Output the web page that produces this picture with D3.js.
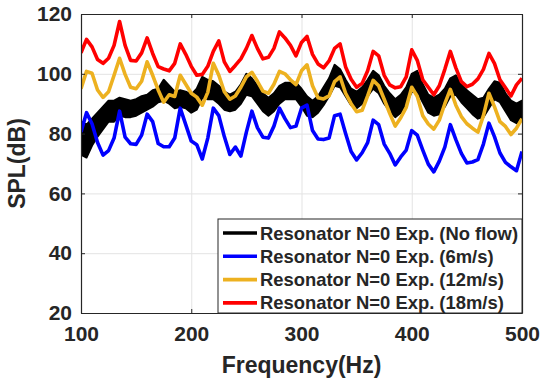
<!DOCTYPE html>
<html>
<head>
<meta charset="utf-8">
<script src="https://cdn.jsdelivr.net/npm/d3@7"></script>
<style>
  html, body { margin: 0; padding: 0; background: #fff; }
  svg { display: block; font-family: "Liberation Sans", Arial, sans-serif; font-weight: bold; }
</style>
</head>
<body>
<svg id="chart" width="541" height="382"></svg>
<script>
// frequency grid (Hz), 5 Hz steps from 100 to 500
const freq = d3.range(100, 501, 5);

// No flow: noisy band, read as upper / lower envelope (dB)
const noFlowHi = [84, 83, 85, 87, 89, 91, 91, 92, 91.5, 91, 91.5, 92.5, 93, 94.5, 95, 98, 96, 94, 94.5, 94,
  93, 95, 99, 98, 97.5, 96, 94, 93, 94, 96.5, 100, 98.5, 96, 93.5, 92, 93.5, 96, 97, 97, 97,
  95, 92.5, 91, 92.5, 95.5, 98.5, 103, 101.5, 98, 95, 94, 95.5, 98, 101, 99.5, 96, 93.5, 91.5, 93, 95.5,
  100, 101, 96.5, 93, 92, 93, 95, 98.5, 99.5, 96.5, 94.5, 93, 91.5, 92, 95, 97.5, 97, 93.5, 91, 90, 91];
const noFlowLo = [73, 72, 76, 79, 81.5, 84, 84, 86, 85.5, 85.5, 86, 87, 88, 89, 90.5, 91, 90, 88.5, 89, 88.5,
  87, 88, 92, 91.5, 91.5, 90, 88, 87.5, 88, 90, 93, 92.5, 90, 87.5, 86, 87.5, 90, 91.5, 91.5, 91.5,
  89, 86, 85.5, 87, 89.5, 92.5, 96, 95.5, 92.5, 89.5, 88.5, 90, 92.5, 95, 93.5, 90, 87.5, 85.5, 87, 90,
  94, 94, 90.5, 87, 86, 86.5, 89, 92.5, 93, 90.5, 88.5, 86.5, 85, 85.5, 88.5, 91.5, 90.5, 87.5, 84.5, 83.5, 85];

// 6 m/s
const flow6 = [80.5, 87, 83.3, 77, 72.8, 74.3, 78.5, 87.5, 78.8, 76.6, 76.4, 79.5, 86.5, 84, 76.7, 75.6, 75.6, 78.5, 88.5, 83,
  77.5, 76.3, 71.5, 78.5, 88.5, 86, 79, 73, 75.5, 72.5, 80.5, 87.5, 82, 78.8, 78.5, 82.5, 88.5, 85, 82, 82.5,
  88.5, 89.5, 81, 78.2, 78, 78.5, 86, 86.5, 80, 74, 71.2, 73.6, 77, 84.5, 83, 76.5, 73.4, 69.5, 72.2, 74.5,
  81, 79.5, 74.5, 69.8, 67.2, 70.8, 75.5, 83, 78, 73.4, 70.2, 70.5, 71.3, 76.5, 83.5, 79, 73.5, 70.4, 68.9, 67.6, 74];

// 12 m/s
const flow12 = [95, 100.8, 100.2, 94.6, 92.1, 94, 99.5, 105.2, 99.8, 95.5, 95, 97.5, 104, 99.5, 94.6, 90.5, 93, 92.4, 99.5, 96.5,
  93.5, 92.2, 89.5, 93.8, 103.5, 99.5, 94, 91.5, 92.6, 95.5, 99, 100.5, 97.5, 94.2, 93.5, 96.5, 100.8, 100, 98, 96.4,
  101, 103, 96, 92, 91.6, 92.6, 97.4, 99, 93.5, 90, 87.3, 87.8, 92.6, 97.8, 96, 91.5, 86.8, 82.5, 85.3, 88.8,
  95.5, 92.5, 86, 83.2, 81.5, 84.5, 90, 94.8, 89.5, 85.7, 83.3, 81.8, 80.5, 86, 93.5, 89, 84, 82.4, 79.7, 81.8, 85];

// 18 m/s
const flow18 = [107, 111.5, 109, 104.8, 103.5, 105.2, 109.5, 117.5, 109.5, 104.5, 104.3, 107, 112, 106.8, 102.4, 101.6, 101, 103.5, 110, 106.5,
  102.5, 99.5, 99.8, 102.5, 107.5, 111, 104, 100.8, 102.8, 105, 108.5, 112.8, 108.5, 105, 105.5, 108.5, 114, 112, 109.5, 106,
  110.5, 112.5, 106.5, 103.3, 102, 104.3, 108.5, 110, 102.3, 98.2, 95.5, 96.8, 101, 107.5, 106, 99.5, 96.3, 95.3, 95.7, 99,
  108, 104.5, 98, 95.5, 93, 96, 101.5, 107.5, 102, 97.4, 95.7, 96.5, 98.3, 101.5, 106.8, 103.5, 98, 95.3, 92.6, 96.3, 98.5];

const legendLabels = [
  "Resonator N=0 Exp. (No flow)",
  "Resonator N=0 Exp. (6m/s)",
  "Resonator N=0 Exp. (12m/s)",
  "Resonator N=0 Exp. (18m/s)"
];
const colors = ["#000000", "#0000ff", "#edb120", "#ff0000"];
const xTicks = [100, 200, 300, 400, 500];
const yTicks = [20, 40, 60, 80, 100, 120];

const svg = d3.select("#chart");
const margin = { top: 14, right: 19, bottom: 69, left: 81 };
const width = 541 - margin.left - margin.right;
const height = 382 - margin.top - margin.bottom;
const axisColor = "#262626";

const x = d3.scaleLinear().domain([100, 500]).range([0, width]);
const y = d3.scaleLinear().domain([20, 120]).range([height, 0]);

const g = svg.append("g").attr("transform", "translate(" + margin.left + "," + margin.top + ")");

svg.append("defs").append("clipPath").attr("id", "clip")
  .append("rect").attr("width", width).attr("height", height);

// grid
g.append("g")
  .attr("transform", "translate(0," + height + ")")
  .call(d3.axisBottom(x).tickValues(xTicks).tickSize(-height).tickFormat(""))
  .call(s => s.select(".domain").remove())
  .selectAll("line").attr("stroke", "#e3e3e3").attr("stroke-width", 1);
g.append("g")
  .call(d3.axisLeft(y).tickValues(yTicks).tickSize(-width).tickFormat(""))
  .call(s => s.select(".domain").remove())
  .selectAll("line").attr("stroke", "#e3e3e3").attr("stroke-width", 1);

const plot = g.append("g").attr("clip-path", "url(#clip)");

// no flow band
const band = d3.area()
  .x((d, i) => x(freq[i]))
  .y0((d, i) => y(noFlowLo[i]))
  .y1((d, i) => y(noFlowHi[i]));
plot.append("path")
  .datum(freq)
  .attr("d", band)
  .attr("fill", colors[0])
  .attr("stroke", colors[0])
  .attr("stroke-width", 2)
  .attr("stroke-linejoin", "round");

const line = d3.line()
  .x((d, i) => x(freq[i]))
  .y(d => y(d));

[flow6, flow12, flow18].forEach(function (series, k) {
  plot.append("path")
    .datum(series)
    .attr("d", line)
    .attr("fill", "none")
    .attr("stroke", colors[k + 1])
    .attr("stroke-width", 3.6)
    .attr("stroke-linejoin", "round");
});

// axes (ticks inward, box)
function styleAxis(sel) {
  sel.select(".domain").attr("stroke", axisColor).attr("stroke-width", 1.2);
  sel.selectAll(".tick line").attr("stroke", axisColor);
  sel.selectAll("text").attr("fill", axisColor).style("font-size", "21px").style("font-weight", "bold")
    .style("font-family", "'Liberation Sans', Arial, sans-serif");
}

g.append("g")
  .attr("transform", "translate(0," + height + ")")
  .call(d3.axisBottom(x).tickValues(xTicks).tickSizeInner(-4).tickSizeOuter(0).tickPadding(13))
  .call(styleAxis);
g.append("g")
  .call(d3.axisTop(x).tickValues(xTicks).tickSizeInner(-4).tickSizeOuter(0).tickFormat(""))
  .call(styleAxis);
g.append("g")
  .call(d3.axisLeft(y).tickValues(yTicks).tickSizeInner(-4).tickSizeOuter(0).tickPadding(9))
  .call(styleAxis);
g.append("g")
  .attr("transform", "translate(" + width + ",0)")
  .call(d3.axisRight(y).tickValues(yTicks).tickSizeInner(-4).tickSizeOuter(0).tickFormat(""))
  .call(styleAxis);

// axis labels
svg.append("text")
  .attr("x", margin.left + width / 2)
  .attr("y", 373)
  .attr("text-anchor", "middle")
  .attr("fill", axisColor)
  .style("font-size", "23px")
  .text("Frequency(Hz)");
svg.append("text")
  .attr("transform", "translate(25," + (margin.top + height / 2) + ") rotate(-90)")
  .attr("text-anchor", "middle")
  .attr("fill", axisColor)
  .style("font-size", "23px")
  .text("SPL(dB)");

// legend
const lg = g.append("g").attr("transform", "translate(" + (width - 304) + "," + (height - 94) + ")");
lg.append("rect")
  .attr("width", 304).attr("height", 94)
  .attr("fill", "#fff").attr("stroke", axisColor).attr("stroke-width", 1);
legendLabels.forEach(function (label, i) {
  const cy = 14 + i * 23.3;
  lg.append("line")
    .attr("x1", 5).attr("x2", 39).attr("y1", cy).attr("y2", cy)
    .attr("stroke", colors[i]).attr("stroke-width", 3.6);
  lg.append("text")
    .attr("x", 42).attr("y", cy + 6.5)
    .attr("fill", axisColor)
    .style("font-size", "18.4px")
    .text(label);
});
</script>
</body>
</html>
